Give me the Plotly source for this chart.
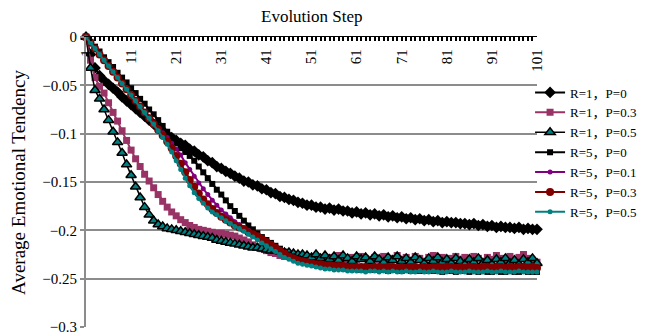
import plotly.graph_objects as go

steps = list(range(1, 102))
x_tick_vals = list(range(1, 102, 10))
x_tick_text = [str(v) for v in x_tick_vals]
y_tick_vals = [0, -0.05, -0.1, -0.15, -0.2, -0.25, -0.3]
y_tick_text = ["0", "−0.05", "−0.1", "−0.15", "−0.2", "−0.25", "−0.3"]

r1_p0 = [0, -0.018, -0.032, -0.040, -0.045, -0.049, -0.053, -0.057, -0.062, -0.066,
         -0.070, -0.074, -0.078, -0.082, -0.086, -0.090, -0.094, -0.098, -0.101, -0.104,
         -0.107, -0.110, -0.112, -0.116, -0.118, -0.122, -0.124, -0.128, -0.130, -0.134,
         -0.136, -0.139, -0.141, -0.144, -0.146, -0.149, -0.150, -0.153, -0.154, -0.157,
         -0.158, -0.161, -0.162, -0.165, -0.166, -0.168, -0.169, -0.171, -0.172, -0.174,
         -0.174, -0.176, -0.176, -0.178, -0.177, -0.179, -0.178, -0.180, -0.180, -0.182,
         -0.181, -0.183, -0.182, -0.184, -0.183, -0.185, -0.184, -0.186, -0.185, -0.187,
         -0.186, -0.188, -0.187, -0.189, -0.188, -0.190, -0.189, -0.191, -0.190, -0.192,
         -0.191, -0.192, -0.192, -0.193, -0.193, -0.194, -0.193, -0.195, -0.194, -0.196,
         -0.195, -0.197, -0.196, -0.197, -0.197, -0.198, -0.197, -0.199, -0.198, -0.199, -0.199]

r1_p03 = [0, -0.024, -0.042, -0.051, -0.058, -0.068, -0.078, -0.087, -0.097, -0.107,
          -0.117, -0.126, -0.134, -0.142, -0.149, -0.156, -0.163, -0.170, -0.176, -0.181,
          -0.185, -0.189, -0.192, -0.195, -0.197, -0.199, -0.200, -0.201, -0.202, -0.203,
          -0.203, -0.204, -0.205, -0.206, -0.208, -0.210, -0.212, -0.215, -0.217, -0.219,
          -0.221, -0.223, -0.224, -0.226, -0.227, -0.226, -0.228, -0.227, -0.229, -0.228,
          -0.230, -0.227, -0.229, -0.231, -0.228, -0.230, -0.226, -0.229, -0.231, -0.228,
          -0.230, -0.227, -0.229, -0.232, -0.228, -0.230, -0.227, -0.231, -0.229, -0.226,
          -0.230, -0.228, -0.231, -0.227, -0.229, -0.232, -0.228, -0.226, -0.230, -0.228,
          -0.231, -0.229, -0.227, -0.230, -0.228, -0.231, -0.227, -0.229, -0.232, -0.228,
          -0.230, -0.226, -0.229, -0.231, -0.227, -0.230, -0.228, -0.225, -0.229, -0.231, -0.233]

r1_p05 = [0, -0.032, -0.055, -0.064, -0.075, -0.086, -0.098, -0.109, -0.120, -0.132,
          -0.143, -0.155, -0.166, -0.176, -0.184, -0.190, -0.194, -0.196, -0.198, -0.199,
          -0.200, -0.201, -0.202, -0.203, -0.204, -0.205, -0.206, -0.207, -0.208, -0.210,
          -0.211, -0.212, -0.213, -0.214, -0.215, -0.216, -0.217, -0.218, -0.218, -0.219,
          -0.220, -0.221, -0.221, -0.222, -0.223, -0.223, -0.224, -0.225, -0.225, -0.226,
          -0.228, -0.225, -0.229, -0.226, -0.230, -0.227, -0.231, -0.226, -0.229, -0.232,
          -0.227, -0.230, -0.228, -0.232, -0.227, -0.230, -0.233, -0.228, -0.231, -0.227,
          -0.232, -0.229, -0.233, -0.228, -0.231, -0.234, -0.229, -0.232, -0.228, -0.233,
          -0.230, -0.234, -0.229, -0.232, -0.235, -0.230, -0.233, -0.229, -0.234, -0.231,
          -0.235, -0.230, -0.233, -0.229, -0.234, -0.231, -0.235, -0.230, -0.233, -0.229, -0.234]

r5_p0 = [0, -0.005, -0.010, -0.015, -0.021, -0.026, -0.031, -0.037, -0.042, -0.047,
         -0.053, -0.058, -0.064, -0.069, -0.075, -0.080, -0.086, -0.092, -0.098, -0.104,
         -0.110, -0.115, -0.119, -0.123, -0.128, -0.134, -0.140, -0.146, -0.152, -0.158,
         -0.163, -0.169, -0.175, -0.180, -0.185, -0.190, -0.195, -0.199, -0.203, -0.207,
         -0.210, -0.213, -0.216, -0.219, -0.222, -0.225, -0.227, -0.229, -0.231, -0.233,
         -0.234, -0.235, -0.236, -0.237, -0.238, -0.238, -0.239, -0.239, -0.240, -0.240,
         -0.240, -0.241, -0.240, -0.241, -0.241, -0.240, -0.241, -0.242, -0.241, -0.241,
         -0.242, -0.241, -0.242, -0.241, -0.242, -0.242, -0.241, -0.242, -0.242, -0.243,
         -0.242, -0.242, -0.243, -0.242, -0.242, -0.243, -0.242, -0.243, -0.242, -0.243,
         -0.243, -0.242, -0.243, -0.243, -0.242, -0.243, -0.243, -0.242, -0.243, -0.243, -0.243]

r5_p01 = [0, -0.006, -0.012, -0.018, -0.024, -0.030, -0.036, -0.042, -0.048, -0.054,
          -0.060, -0.066, -0.072, -0.077, -0.083, -0.089, -0.094, -0.099, -0.104, -0.110,
          -0.116, -0.122, -0.130, -0.137, -0.144, -0.151, -0.157, -0.163, -0.169, -0.174,
          -0.179, -0.183, -0.187, -0.191, -0.194, -0.197, -0.200, -0.203, -0.206, -0.209,
          -0.212, -0.215, -0.218, -0.221, -0.224, -0.226, -0.228, -0.230, -0.232, -0.233,
          -0.234, -0.235, -0.235, -0.236, -0.236, -0.237, -0.237, -0.237, -0.238, -0.238,
          -0.238, -0.238, -0.239, -0.238, -0.238, -0.239, -0.238, -0.239, -0.239, -0.238,
          -0.239, -0.239, -0.238, -0.239, -0.239, -0.239, -0.238, -0.239, -0.239, -0.239,
          -0.239, -0.238, -0.239, -0.239, -0.239, -0.239, -0.238, -0.239, -0.239, -0.239,
          -0.239, -0.239, -0.238, -0.239, -0.239, -0.239, -0.239, -0.238, -0.239, -0.239, -0.239]

r5_p03 = [0, -0.006, -0.012, -0.018, -0.024, -0.030, -0.036, -0.042, -0.048, -0.054,
          -0.060, -0.066, -0.072, -0.078, -0.084, -0.090, -0.096, -0.102, -0.108, -0.115,
          -0.123, -0.131, -0.140, -0.148, -0.155, -0.162, -0.168, -0.173, -0.178, -0.182,
          -0.186, -0.189, -0.192, -0.195, -0.197, -0.199, -0.202, -0.204, -0.206, -0.209,
          -0.212, -0.215, -0.218, -0.221, -0.224, -0.227, -0.229, -0.231, -0.232, -0.233,
          -0.234, -0.235, -0.235, -0.236, -0.236, -0.237, -0.237, -0.237, -0.238, -0.238,
          -0.238, -0.238, -0.238, -0.239, -0.238, -0.238, -0.239, -0.238, -0.238, -0.239,
          -0.238, -0.239, -0.238, -0.238, -0.239, -0.238, -0.239, -0.238, -0.238, -0.239,
          -0.238, -0.238, -0.239, -0.238, -0.239, -0.238, -0.238, -0.239, -0.238, -0.238,
          -0.239, -0.238, -0.238, -0.239, -0.238, -0.239, -0.238, -0.238, -0.239, -0.238, -0.239]

r5_p05 = [0, -0.006, -0.012, -0.018, -0.024, -0.030, -0.036, -0.042, -0.048, -0.054,
          -0.060, -0.066, -0.072, -0.078, -0.084, -0.090, -0.097, -0.104, -0.111, -0.119,
          -0.128, -0.137, -0.146, -0.154, -0.161, -0.167, -0.172, -0.177, -0.181, -0.184,
          -0.187, -0.190, -0.193, -0.196, -0.198, -0.201, -0.204, -0.207, -0.210, -0.213,
          -0.216, -0.219, -0.222, -0.225, -0.228, -0.230, -0.232, -0.234, -0.235, -0.236,
          -0.237, -0.238, -0.239, -0.240, -0.240, -0.241, -0.241, -0.241, -0.242, -0.242,
          -0.242, -0.242, -0.243, -0.242, -0.242, -0.243, -0.242, -0.243, -0.242, -0.243,
          -0.243, -0.242, -0.243, -0.243, -0.242, -0.243, -0.243, -0.242, -0.243, -0.243,
          -0.243, -0.242, -0.243, -0.243, -0.243, -0.242, -0.243, -0.243, -0.243, -0.242,
          -0.243, -0.243, -0.242, -0.243, -0.243, -0.243, -0.242, -0.243, -0.243, -0.243, -0.243]

series_names = ["R=1，P=0", "R=1，P=0.3", "R=1，P=0.5", "R=5，P=0",
                "R=5，P=0.1", "R=5，P=0.3", "R=5，P=0.5"]
series_values = [r1_p0, r1_p03, r1_p05, r5_p0, r5_p01, r5_p03, r5_p05]

styles = [
    dict(line=dict(color="#000000", width=2),
         marker=dict(symbol="diamond", size=9, color="#000000")),
    dict(line=dict(color="#993366", width=2),
         marker=dict(symbol="square", size=7, color="#993366")),
    dict(line=dict(color="#000000", width=1.5),
         marker=dict(symbol="triangle-up", size=9, color="#008080",
                     line=dict(color="#000000", width=1.5))),
    dict(line=dict(color="#000000", width=2),
         marker=dict(symbol="square", size=6, color="#000000")),
    dict(line=dict(color="#800080", width=2),
         marker=dict(symbol="circle", size=5, color="#800080")),
    dict(line=dict(color="#800000", width=2),
         marker=dict(symbol="circle", size=8, color="#800000")),
    dict(line=dict(color="#008080", width=2),
         marker=dict(symbol="circle", size=5, color="#008080")),
]

FONT = "'Liberation Serif', 'Times New Roman', 'DejaVu Serif', 'Noto Sans CJK SC', serif"

fig = go.Figure()
for name, vals, st in zip(series_names, series_values, styles):
    fig.add_trace(go.Scatter(x=steps, y=vals, name=name, mode="lines+markers",
                             cliponaxis=False, **st))

fig.update_layout(
    width=648, height=336,
    margin=dict(l=86, r=111, t=37, b=9, autoexpand=False),
    paper_bgcolor="white", plot_bgcolor="white",
    font=dict(family=FONT, size=14, color="black"),
    showlegend=True,
    legend=dict(xref="container", yref="container", x=0.818, xanchor="left",
                y=0.7693, yanchor="top",
                font=dict(family=FONT, size=13, color="black"),
                bgcolor="rgba(0,0,0,0)", itemwidth=30, tracegroupgap=0),
    xaxis=dict(
        range=[1, 101], side="top", tickmode="array",
        tickvals=x_tick_vals, ticktext=x_tick_text,
        ticks="inside", ticklen=4, tickwidth=2, tickcolor="black",
        ticklabelposition="inside", ticklabeloverflow="allow", tickangle=-90,
        tickfont=dict(family=FONT, size=15, color="black"),
        showline=True, linecolor="black", linewidth=1,
        showgrid=False, zeroline=False,
        minor=dict(dtick=1, tick0=1, ticks="inside", ticklen=4, tickwidth=2,
                   tickcolor="black", showgrid=False),
    ),
    yaxis=dict(
        range=[-0.3, 0], tickmode="array", tickvals=y_tick_vals,
        ticktext=y_tick_text, ticklabeloverflow="allow",
        ticks="outside", ticklen=4, tickwidth=2, tickcolor="#8c8c8c",
        tickfont=dict(family=FONT, size=15, color="black"),
        showline=True, linecolor="#8c8c8c", linewidth=2,
        showgrid=True, gridcolor="#8c8c8c", gridwidth=2,
        zeroline=False,
    ),
    annotations=[
        dict(text="Evolution Step", xref="paper", yref="paper", x=0.5, y=1.069,
             xanchor="center", yanchor="middle", showarrow=False,
             font=dict(family=FONT, size=17, color="black")),
        dict(text="Average Emotional Tendency", xref="paper", yref="paper",
             x=-0.151, y=0.5, xanchor="center", yanchor="middle", textangle=-90,
             showarrow=False, font=dict(family=FONT, size=19, color="black")),
    ],
)

fig.write_html("out.html")
